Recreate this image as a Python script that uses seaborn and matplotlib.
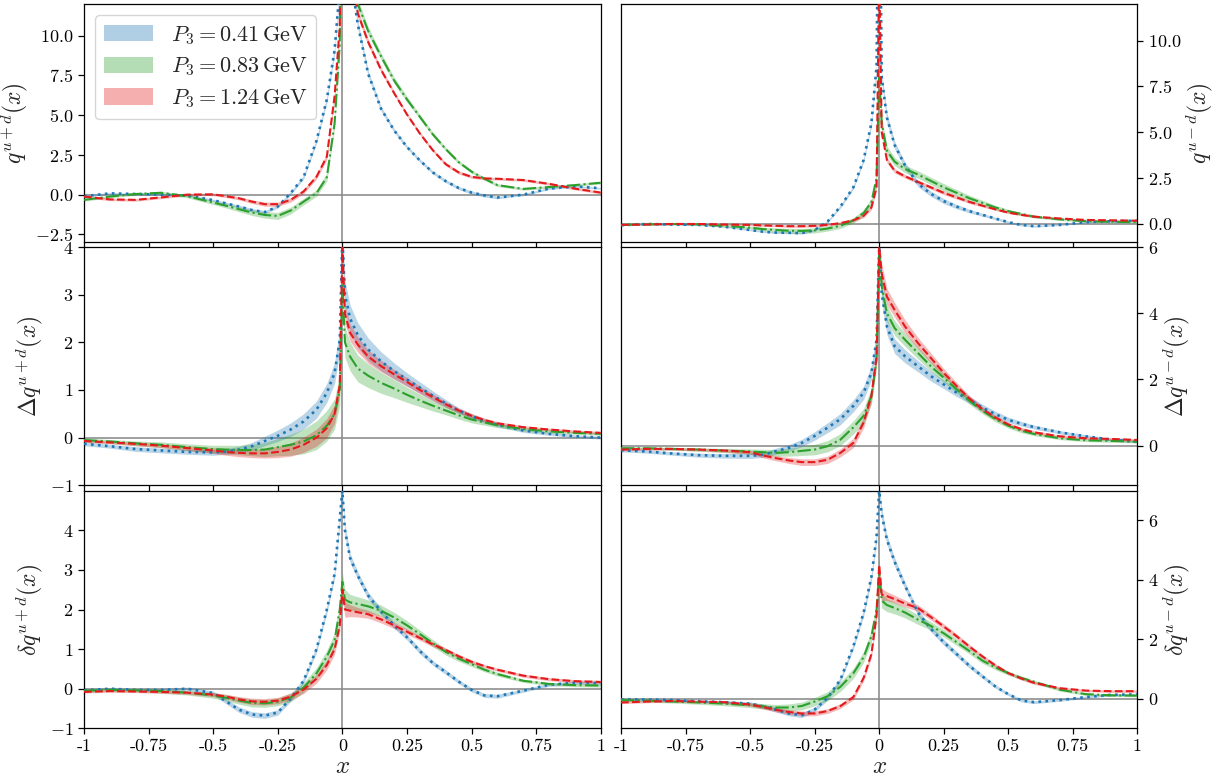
import matplotlib
matplotlib.use("Agg")
import matplotlib.pyplot as plt
import seaborn as sns
from matplotlib.patches import Patch
from matplotlib.ticker import FuncFormatter, FixedLocator

# ---------------- data ----------------
X = [-1.0, -0.9, -0.8, -0.7, -0.6, -0.5, -0.45, -0.4, -0.35, -0.3, -0.25, -0.2, -0.15, -0.1,
     -0.06, -0.03, -0.01, 0.0, 0.01, 0.03, 0.06, 0.1, 0.15, 0.2, 0.25, 0.3, 0.35, 0.4, 0.45,
     0.5, 0.55, 0.6, 0.7, 0.8, 0.9, 1.0]

momenta = ["0.41", "0.83", "1.24"]

# q^{u+d}
q_upd_041 = [-0.10, 0.08, 0.04, 0.00, -0.05, -0.35, -0.55, -0.75, -0.97, -1.10, -0.75, 0.10, 1.10, 3.40, 6.00, 9.10, 13.0, 25.0, 20.0, 14.0, 10.7, 7.60, 5.40, 4.05, 3.00, 2.15, 1.40, 0.85, 0.42, 0.13, -0.05, -0.18, 0.00, 0.38, 0.52, 0.40]
q_upd_083 = [-0.33, -0.12, 0.04, 0.12, -0.10, -0.50, -0.70, -0.92, -1.13, -1.28, -1.34, -1.00, -0.44, 0.10, 1.10, 4.50, 9.50, 25.0, 20.0, 16.0, 12.0, 10.3, 8.70, 7.20, 6.00, 4.90, 3.80, 2.87, 2.05, 1.45, 1.00, 0.60, 0.36, 0.48, 0.60, 0.75]
q_upd_124 = [-0.12, -0.30, -0.33, -0.17, 0.00, 0.02, -0.10, -0.23, -0.44, -0.60, -0.60, -0.33, 0.20, 1.13, 2.40, 6.20, 10.6, 25.0, 20.0, 15.0, 11.4, 9.60, 7.85, 6.40, 5.05, 3.85, 2.80, 1.92, 1.40, 1.12, 1.02, 1.00, 0.92, 0.68, 0.38, 0.13]
q_upd_041_err = [0.06, 0.06, 0.06, 0.06, 0.06, 0.07, 0.08, 0.09, 0.10, 0.10, 0.10, 0.10, 0.12, 0.15, 0.20, 0.25, 0.30, 0.40, 0.40, 0.30, 0.25, 0.20, 0.15, 0.12, 0.10, 0.10, 0.10, 0.10, 0.10, 0.10, 0.10, 0.08, 0.07, 0.06, 0.06, 0.06]
q_upd_083_err = [0.08, 0.08, 0.08, 0.08, 0.10, 0.12, 0.14, 0.16, 0.18, 0.20, 0.22, 0.22, 0.20, 0.20, 0.25, 0.30, 0.35, 0.40, 0.40, 0.35, 0.30, 0.25, 0.22, 0.20, 0.18, 0.15, 0.13, 0.12, 0.11, 0.10, 0.10, 0.09, 0.08, 0.08, 0.08, 0.08]
q_upd_124_err = [0.08, 0.08, 0.08, 0.08, 0.08, 0.08, 0.09, 0.10, 0.12, 0.13, 0.14, 0.14, 0.14, 0.15, 0.20, 0.25, 0.30, 0.40, 0.40, 0.30, 0.25, 0.20, 0.15, 0.12, 0.10, 0.10, 0.10, 0.10, 0.10, 0.09, 0.09, 0.08, 0.08, 0.08, 0.08, 0.08]

# q^{u-d}
q_umd_041 = [-0.07, 0.00, -0.03, -0.05, -0.15, -0.33, -0.42, -0.47, -0.48, -0.50, -0.33, 0.13, 0.95, 2.00, 3.50, 5.50, 8.60, 22.0, 8.00, 5.80, 4.30, 3.20, 2.20, 1.65, 1.25, 0.95, 0.70, 0.50, 0.30, 0.10, -0.05, -0.12, -0.05, 0.10, 0.15, 0.18]
q_umd_083 = [-0.05, -0.02, 0.00, -0.02, -0.10, -0.20, -0.28, -0.33, -0.37, -0.38, -0.35, -0.25, -0.10, 0.20, 0.60, 1.20, 2.50, 8.00, 5.50, 4.00, 3.40, 3.00, 2.70, 2.35, 2.00, 1.70, 1.40, 1.15, 0.90, 0.70, 0.55, 0.40, 0.25, 0.15, 0.12, 0.10]
q_umd_124 = [-0.05, -0.03, 0.00, 0.00, -0.03, -0.05, -0.08, -0.10, -0.12, -0.12, -0.10, -0.05, 0.05, 0.20, 0.45, 0.90, 2.00, 14.0, 5.00, 3.50, 2.90, 2.60, 2.30, 2.00, 1.70, 1.45, 1.20, 1.00, 0.80, 0.62, 0.50, 0.40, 0.30, 0.22, 0.20, 0.18]
q_umd_041_err = [0.03, 0.03, 0.03, 0.03, 0.03, 0.04, 0.04, 0.05, 0.05, 0.05, 0.05, 0.06, 0.08, 0.10, 0.12, 0.15, 0.20, 0.30, 0.30, 0.25, 0.20, 0.18, 0.16, 0.15, 0.14, 0.12, 0.10, 0.08, 0.07, 0.06, 0.05, 0.05, 0.04, 0.04, 0.03, 0.03]
q_umd_083_err = [0.04, 0.04, 0.04, 0.05, 0.06, 0.08, 0.10, 0.12, 0.13, 0.14, 0.14, 0.14, 0.14, 0.15, 0.18, 0.20, 0.25, 0.30, 0.30, 0.25, 0.22, 0.20, 0.20, 0.20, 0.20, 0.18, 0.16, 0.14, 0.12, 0.10, 0.08, 0.07, 0.06, 0.05, 0.05, 0.05]
q_umd_124_err = [0.03, 0.03, 0.03, 0.03, 0.04, 0.04, 0.05, 0.05, 0.06, 0.06, 0.06, 0.06, 0.07, 0.08, 0.10, 0.12, 0.15, 0.25, 0.25, 0.15, 0.12, 0.10, 0.10, 0.10, 0.10, 0.09, 0.08, 0.07, 0.06, 0.05, 0.05, 0.05, 0.04, 0.04, 0.04, 0.04]

# Delta q^{u+d}
dq_upd_041 = [-0.13, -0.18, -0.24, -0.27, -0.30, -0.31, -0.29, -0.25, -0.18, -0.07, 0.04, 0.17, 0.34, 0.59, 0.94, 1.36, 2.05, 4.20, 3.00, 2.50, 2.15, 1.85, 1.60, 1.40, 1.22, 1.05, 0.88, 0.72, 0.57, 0.45, 0.35, 0.27, 0.15, 0.08, 0.03, 0.00]
dq_upd_083 = [-0.05, -0.08, -0.12, -0.15, -0.20, -0.24, -0.25, -0.26, -0.26, -0.25, -0.20, -0.15, -0.08, 0.05, 0.25, 0.50, 1.00, 3.20, 2.00, 1.70, 1.45, 1.30, 1.15, 1.03, 0.90, 0.78, 0.67, 0.57, 0.47, 0.38, 0.32, 0.26, 0.18, 0.13, 0.10, 0.08]
dq_upd_124 = [-0.07, -0.10, -0.13, -0.17, -0.22, -0.27, -0.30, -0.32, -0.33, -0.33, -0.30, -0.25, -0.15, 0.00, 0.20, 0.50, 1.10, 4.00, 2.60, 2.20, 1.95, 1.70, 1.50, 1.33, 1.17, 1.00, 0.85, 0.70, 0.57, 0.46, 0.37, 0.30, 0.22, 0.17, 0.13, 0.10]
dq_upd_041_err = [0.04, 0.04, 0.05, 0.05, 0.05, 0.06, 0.06, 0.07, 0.08, 0.10, 0.12, 0.14, 0.16, 0.18, 0.20, 0.22, 0.25, 0.30, 0.30, 0.28, 0.26, 0.24, 0.20, 0.17, 0.14, 0.12, 0.10, 0.08, 0.06, 0.05, 0.05, 0.04, 0.04, 0.03, 0.03, 0.03]
dq_upd_083_err = [0.04, 0.04, 0.05, 0.06, 0.07, 0.08, 0.09, 0.10, 0.12, 0.15, 0.18, 0.22, 0.26, 0.30, 0.32, 0.32, 0.32, 0.32, 0.32, 0.30, 0.28, 0.25, 0.22, 0.19, 0.16, 0.13, 0.11, 0.09, 0.08, 0.07, 0.06, 0.05, 0.04, 0.04, 0.03, 0.03]
dq_upd_124_err = [0.03, 0.03, 0.04, 0.04, 0.05, 0.06, 0.07, 0.08, 0.09, 0.10, 0.12, 0.14, 0.16, 0.18, 0.20, 0.20, 0.20, 0.20, 0.20, 0.18, 0.16, 0.14, 0.12, 0.10, 0.09, 0.08, 0.07, 0.06, 0.05, 0.05, 0.04, 0.04, 0.03, 0.03, 0.03, 0.03]

# Delta q^{u-d}
dq_umd_041 = [-0.14, -0.18, -0.24, -0.29, -0.31, -0.31, -0.28, -0.17, -0.07, 0.08, 0.29, 0.54, 0.80, 1.20, 1.60, 2.20, 3.20, 6.00, 4.60, 3.60, 3.00, 2.70, 2.40, 2.10, 1.85, 1.60, 1.38, 1.15, 0.95, 0.78, 0.66, 0.56, 0.40, 0.28, 0.18, 0.12]
dq_umd_083 = [-0.08, -0.08, -0.10, -0.12, -0.15, -0.18, -0.20, -0.22, -0.20, -0.16, -0.12, -0.02, 0.18, 0.55, 0.90, 1.50, 2.60, 5.80, 4.80, 4.00, 3.55, 3.20, 2.80, 2.40, 2.05, 1.70, 1.35, 1.05, 0.80, 0.60, 0.45, 0.35, 0.22, 0.16, 0.14, 0.12]
dq_umd_124 = [-0.12, -0.10, -0.10, -0.12, -0.15, -0.20, -0.30, -0.38, -0.45, -0.50, -0.50, -0.43, -0.22, 0.08, 0.70, 1.50, 2.70, 6.00, 5.20, 4.50, 4.10, 3.60, 3.10, 2.65, 2.20, 1.80, 1.42, 1.10, 0.85, 0.64, 0.50, 0.40, 0.28, 0.22, 0.20, 0.17]
dq_umd_041_err = [0.05, 0.05, 0.05, 0.06, 0.07, 0.08, 0.08, 0.09, 0.10, 0.11, 0.13, 0.15, 0.17, 0.18, 0.20, 0.22, 0.25, 0.30, 0.30, 0.25, 0.22, 0.20, 0.17, 0.15, 0.13, 0.12, 0.11, 0.10, 0.09, 0.08, 0.07, 0.06, 0.05, 0.05, 0.04, 0.04]
dq_umd_083_err = [0.04, 0.04, 0.04, 0.05, 0.06, 0.08, 0.09, 0.10, 0.12, 0.14, 0.16, 0.17, 0.18, 0.20, 0.22, 0.25, 0.28, 0.30, 0.30, 0.25, 0.22, 0.20, 0.18, 0.15, 0.13, 0.11, 0.10, 0.09, 0.08, 0.07, 0.06, 0.05, 0.04, 0.04, 0.04, 0.04]
dq_umd_124_err = [0.04, 0.04, 0.04, 0.04, 0.05, 0.06, 0.07, 0.08, 0.09, 0.10, 0.10, 0.11, 0.12, 0.14, 0.16, 0.18, 0.22, 0.30, 0.30, 0.25, 0.22, 0.20, 0.17, 0.15, 0.13, 0.11, 0.09, 0.08, 0.07, 0.06, 0.05, 0.05, 0.04, 0.04, 0.04, 0.04]

# delta q^{u+d}
tq_upd_041 = [-0.04, 0.00, -0.03, -0.03, 0.00, -0.11, -0.32, -0.53, -0.65, -0.68, -0.60, -0.25, 0.20, 1.00, 2.00, 2.90, 4.30, 5.00, 4.00, 3.30, 2.85, 2.35, 1.95, 1.60, 1.30, 0.95, 0.65, 0.42, 0.18, -0.03, -0.17, -0.19, -0.05, 0.10, 0.15, 0.14]
tq_upd_083 = [-0.05, -0.03, -0.04, -0.06, -0.10, -0.17, -0.23, -0.30, -0.36, -0.37, -0.33, -0.22, 0.03, 0.39, 0.81, 1.23, 2.00, 2.70, 2.25, 2.18, 2.14, 2.08, 1.97, 1.80, 1.60, 1.38, 1.15, 0.93, 0.76, 0.62, 0.48, 0.37, 0.20, 0.12, 0.09, 0.08]
tq_upd_124 = [-0.08, -0.06, -0.07, -0.08, -0.10, -0.15, -0.20, -0.27, -0.32, -0.33, -0.30, -0.20, -0.02, 0.25, 0.60, 1.00, 1.60, 2.50, 2.00, 1.97, 1.93, 1.88, 1.75, 1.60, 1.44, 1.28, 1.12, 0.98, 0.82, 0.68, 0.57, 0.48, 0.33, 0.24, 0.19, 0.17]
tq_upd_041_err = [0.03, 0.03, 0.03, 0.03, 0.04, 0.05, 0.06, 0.07, 0.07, 0.07, 0.07, 0.07, 0.07, 0.08, 0.09, 0.10, 0.12, 0.15, 0.15, 0.12, 0.10, 0.09, 0.08, 0.08, 0.07, 0.07, 0.06, 0.06, 0.05, 0.05, 0.05, 0.05, 0.04, 0.04, 0.04, 0.04]
tq_upd_083_err = [0.04, 0.04, 0.04, 0.05, 0.06, 0.07, 0.08, 0.09, 0.10, 0.10, 0.10, 0.11, 0.12, 0.14, 0.16, 0.18, 0.20, 0.25, 0.25, 0.20, 0.18, 0.16, 0.14, 0.13, 0.12, 0.10, 0.09, 0.08, 0.07, 0.06, 0.05, 0.05, 0.04, 0.04, 0.04, 0.04]
tq_upd_124_err = [0.03, 0.03, 0.03, 0.04, 0.04, 0.05, 0.06, 0.07, 0.08, 0.08, 0.08, 0.09, 0.10, 0.11, 0.12, 0.13, 0.15, 0.20, 0.20, 0.15, 0.12, 0.10, 0.09, 0.08, 0.07, 0.06, 0.06, 0.05, 0.05, 0.05, 0.04, 0.04, 0.04, 0.04, 0.04, 0.04]

# delta q^{u-d}
tq_umd_041 = [-0.03, -0.03, -0.05, -0.09, -0.12, -0.17, -0.26, -0.37, -0.50, -0.56, -0.37, 0.02, 0.64, 1.76, 2.90, 4.10, 5.46, 7.00, 6.20, 5.35, 4.60, 3.80, 2.90, 2.35, 1.90, 1.50, 1.10, 0.75, 0.41, 0.15, -0.06, -0.12, -0.05, 0.05, 0.13, 0.14]
tq_umd_083 = [-0.05, -0.07, -0.10, -0.13, -0.17, -0.22, -0.26, -0.30, -0.30, -0.25, -0.10, 0.08, 0.40, 0.85, 1.40, 2.10, 3.00, 4.20, 3.30, 3.15, 3.05, 2.90, 2.66, 2.45, 2.20, 1.90, 1.60, 1.28, 1.05, 0.86, 0.70, 0.57, 0.30, 0.15, 0.11, 0.10]
tq_umd_124 = [-0.13, -0.10, -0.08, -0.10, -0.12, -0.20, -0.28, -0.38, -0.45, -0.50, -0.50, -0.42, -0.25, 0.05, 0.70, 1.50, 2.80, 4.50, 3.50, 3.45, 3.35, 3.20, 3.05, 2.75, 2.43, 2.10, 1.75, 1.42, 1.12, 0.86, 0.68, 0.53, 0.35, 0.27, 0.25, 0.25]
tq_umd_041_err = [0.04, 0.04, 0.04, 0.04, 0.05, 0.06, 0.07, 0.08, 0.08, 0.08, 0.08, 0.08, 0.08, 0.10, 0.12, 0.14, 0.16, 0.20, 0.20, 0.16, 0.14, 0.12, 0.10, 0.10, 0.10, 0.09, 0.08, 0.07, 0.06, 0.05, 0.05, 0.05, 0.04, 0.04, 0.04, 0.04]
tq_umd_083_err = [0.05, 0.05, 0.05, 0.06, 0.07, 0.08, 0.09, 0.10, 0.12, 0.13, 0.14, 0.15, 0.16, 0.17, 0.18, 0.20, 0.22, 0.25, 0.25, 0.22, 0.20, 0.18, 0.16, 0.14, 0.12, 0.11, 0.10, 0.09, 0.08, 0.07, 0.06, 0.05, 0.05, 0.04, 0.04, 0.04]
tq_umd_124_err = [0.04, 0.04, 0.04, 0.04, 0.05, 0.06, 0.07, 0.07, 0.08, 0.08, 0.08, 0.08, 0.08, 0.09, 0.10, 0.12, 0.15, 0.20, 0.20, 0.15, 0.13, 0.12, 0.11, 0.10, 0.09, 0.08, 0.07, 0.06, 0.06, 0.05, 0.05, 0.05, 0.04, 0.04, 0.04, 0.04]

xtick_vals = [-1, -0.75, -0.5, -0.25, 0, 0.25, 0.5, 0.75, 1]
xtick_labels = ["-1", "-0.75", "-0.5", "-0.25", "0", "0.25", "0.5", "0.75", "1"]

# ---------------- style ----------------
sns.set_style("ticks")
plt.rcParams.update({
    "font.family": "serif",
    "font.serif": ["cmr10", "DejaVu Serif"],
    "mathtext.fontset": "cm",
    "axes.unicode_minus": False,
    "axes.formatter.use_mathtext": True,
    "axes.edgecolor": "black",
    "axes.linewidth": 0.9,
    "xtick.color": "black",
    "ytick.color": "black",
    "xtick.direction": "out",
    "ytick.direction": "out",
})

colors = ["#1f77b4", "#2ca02c", "#e41a1c"]
styles = [":", "-.", "--"]
widths = [1.9, 1.5, 1.5]

fig = plt.figure(figsize=(12.21, 7.81), dpi=100)
W, H = 1221.0, 781.0
cols = [(84, 600.7), (621, 1137.3)]
rows = [(4, 242.3), (247, 485.3), (490.7, 728.3)]

panels = [
    # row, col, curves, errs, ylim, yticks, fmt, ylabel
    (0, 0, [q_upd_041, q_upd_083, q_upd_124], [q_upd_041_err, q_upd_083_err, q_upd_124_err],
     (-3, 12), [-2.5, 0, 2.5, 5, 7.5, 10], "%.1f", r"$q^{u+d}(x)$"),
    (0, 1, [q_umd_041, q_umd_083, q_umd_124], [q_umd_041_err, q_umd_083_err, q_umd_124_err],
     (-1, 12), [0, 2.5, 5, 7.5, 10], "%.1f", r"$q^{u-d}(x)$"),
    (1, 0, [dq_upd_041, dq_upd_083, dq_upd_124], [dq_upd_041_err, dq_upd_083_err, dq_upd_124_err],
     (-1, 4), [-1, 0, 1, 2, 3, 4], "%d", r"$\Delta q^{u+d}(x)$"),
    (1, 1, [dq_umd_041, dq_umd_083, dq_umd_124], [dq_umd_041_err, dq_umd_083_err, dq_umd_124_err],
     (-1.2, 6), [0, 2, 4, 6], "%d", r"$\Delta q^{u-d}(x)$"),
    (2, 0, [tq_upd_041, tq_upd_083, tq_upd_124], [tq_upd_041_err, tq_upd_083_err, tq_upd_124_err],
     (-1, 5), [-1, 0, 1, 2, 3, 4], "%d", r"$\delta q^{u+d}(x)$"),
    (2, 1, [tq_umd_041, tq_umd_083, tq_umd_124], [tq_umd_041_err, tq_umd_083_err, tq_umd_124_err],
     (-1, 7), [0, 2, 4, 6], "%d", r"$\delta q^{u-d}(x)$"),
]

axes = {}
for (r, c, curves, errs, ylim, yticks, fmt, ylabel) in panels:
    x0, x1 = cols[c]
    y0, y1 = rows[r]
    ax = fig.add_axes([x0 / W, 1 - y1 / H, (x1 - x0) / W, (y1 - y0) / H])
    axes[(r, c)] = ax
    ax.axhline(0, color="0.55", lw=1.3, alpha=0.9, zorder=1)
    ax.axvline(0, color="0.55", lw=1.3, alpha=0.9, zorder=1)
    for vals, err, col, ls, lw in zip(curves, errs, colors, styles, widths):
        lo = [v - e for v, e in zip(vals, err)]
        hi = [v + e for v, e in zip(vals, err)]
        ax.fill_between(X, lo, hi, color=col, alpha=0.3, lw=0, zorder=2)
        sns.lineplot(x=X, y=vals, ax=ax, color=col, linestyle=ls, lw=lw, zorder=3)
    ax.set_xlim(-1, 1)
    ax.set_ylim(*ylim)
    ax.yaxis.set_major_locator(FixedLocator(yticks))
    ax.yaxis.set_major_formatter(FuncFormatter(lambda v, p, f=fmt: "$" + (f % v) + "$"))
    ax.xaxis.set_major_locator(FixedLocator(xtick_vals))
    ax.tick_params(axis="both", length=4, width=0.9, labelsize=13)
    if c == 1:
        ax.yaxis.tick_right()
        ax.yaxis.set_label_position("right")
    ax.set_ylabel(ylabel, fontsize=17, labelpad=3)
    if r == 2:
        ax.set_xticklabels(xtick_labels)
        ax.set_xlabel(r"$x$", fontsize=18, labelpad=1)
    else:
        ax.set_xticklabels([])
    for s in ax.spines.values():
        s.set_visible(True)
        s.set_color("black")

handles = [Patch(facecolor=col, alpha=0.35, edgecolor="none") for col in colors]
labels = [r"$P_3 = %s\,\mathrm{GeV}$" % m for m in momenta]
axes[(0, 0)].legend(handles, labels, loc="upper left", fontsize=16, handlelength=2.2,
                    handleheight=0.75, labelspacing=0.4, frameon=True, framealpha=0.8,
                    edgecolor="0.8", fancybox=True)

fig.savefig("out.png", dpi=100)
